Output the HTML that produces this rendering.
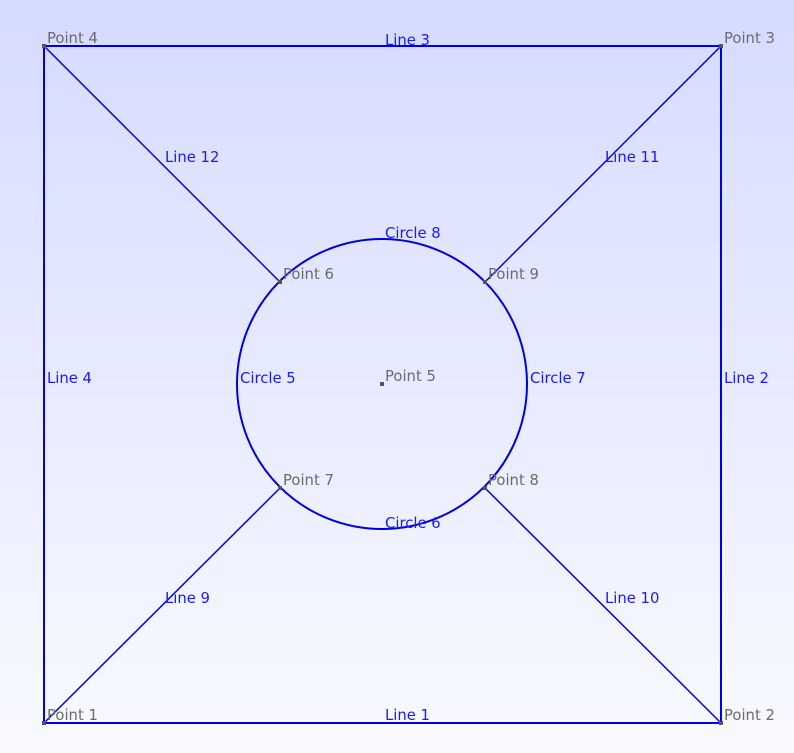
<!DOCTYPE html>
<html><head><meta charset="utf-8">
<style>
html,body{margin:0;padding:0;width:794px;height:753px;overflow:hidden}
body{background:linear-gradient(#d5dbff,#f9faff)}
svg text{font-family:"DejaVu Sans","Liberation Sans",sans-serif;font-size:14.8px}
.p{fill:#6b6b6b}.l{fill:#1a1aff}
</style></head><body>
<svg width="794" height="753">
<script>
const points=[["Point 1",44,723],["Point 2",721,723],["Point 3",721,46],["Point 4",44,46],["Point 5",382,384],["Point 6",280,282],["Point 7",280,488],["Point 8",485,488],["Point 9",485,282]];
const lines=[["Line 1",0,1,385,720],["Line 2",1,2,724,383],["Line 3",3,2,385,45],["Line 4",0,3,47,383],["Line 9",0,6,165,603],["Line 10",1,7,605,603],["Line 11",2,8,605,162],["Line 12",3,5,165,162]];
const circles=[["Circle 5",240,383],["Circle 6",385,528],["Circle 7",530,383],["Circle 8",385,238]];
const radius=145;
</script>
<g id="g"></g>
<script>
const NS="http://www.w3.org/2000/svg",g=document.getElementById('g');
function mk(t,a,txt){const e=document.createElementNS(NS,t);for(const k in a)e.setAttribute(k,a[k]);if(txt)e.textContent=txt;g.appendChild(e);return e;}
lines.forEach(l=>{const a=points[l[1]],b=points[l[2]];
const e=mk('line',{x1:a[1],y1:a[2],x2:b[1],y2:b[2],stroke:'#0000e6','stroke-width':(l[0]==='Line 9'||l[0]==='Line 10'||l[0]==='Line 11'||l[0]==='Line 12')?1.5:2});


const t=mk('text',{x:l[3],y:l[4],class:'l'},l[0]);

});
const c=points[4];
const ce=mk('circle',{cx:c[1],cy:c[2],r:radius,fill:'none',stroke:'#0000e6','stroke-width':2});


circles.forEach(cc=>{const t=mk('text',{x:cc[1],y:cc[2],class:'l'},cc[0]);

});
points.forEach(p=>{const r=mk('rect',{x:p[1]-2,y:p[2]-2,width:4,height:4,fill:'#555'});


const t=mk('text',{x:p[1]+3,y:p[2]-3,class:'p'},p[0]);

});
</script>
</svg>
</body></html>
